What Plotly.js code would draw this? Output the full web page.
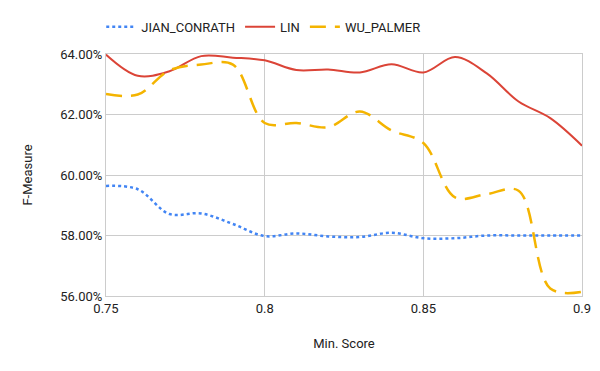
<!DOCTYPE html>
<html>
<head>
<meta charset="utf-8">
<script src="https://cdn.plot.ly/plotly-3.0.1.min.js"></script>
<style>
  html, body { margin: 0; padding: 0; background: #fff; }
  #chart { width: 600px; height: 371px; }
</style>
</head>
<body>
<div id="chart"></div>
<script>
// min. score thresholds
var minScore = [0.75, 0.76, 0.77, 0.78, 0.79, 0.80, 0.81, 0.82, 0.83, 0.84, 0.85, 0.86, 0.87, 0.88, 0.89, 0.90];

// F-measure per measure
var jianConrath = [0.5964, 0.5953, 0.5871, 0.5873, 0.5838, 0.5798, 0.5807, 0.5797, 0.5795, 0.5809, 0.5791, 0.5791, 0.5800, 0.5800, 0.5800, 0.5800];
var lin = [0.6398, 0.6328, 0.6343, 0.6393, 0.6388, 0.6379, 0.6347, 0.6349, 0.6339, 0.6366, 0.6339, 0.6390, 0.6336, 0.6243, 0.6188, 0.6097];
var wuPalmer = [0.6268, 0.6266, 0.6346, 0.6365, 0.6365, 0.6172, 0.6172, 0.6158, 0.6210, 0.6147, 0.6106, 0.5926, 0.5937, 0.5948, 0.5625, 0.5614];

var data = [
  {x: minScore, y: jianConrath, name: 'JIAN_CONRATH', type: 'scatter', mode: 'lines',
   line: {color: '#4285f4', width: 2.5, dash: 'dot', shape: 'spline', smoothing: 1}},
  {x: minScore, y: lin, name: 'LIN', type: 'scatter', mode: 'lines',
   line: {color: '#db4437', width: 2, shape: 'spline', smoothing: 1}},
  {x: minScore, y: wuPalmer, name: 'WU_PALMER', type: 'scatter', mode: 'lines',
   line: {color: '#f4b400', width: 2.5, dash: '16px,9px', shape: 'spline', smoothing: 1}}
];

var layout = {
  width: 600,
  height: 371,
  margin: {l: 106, r: 18, t: 52, b: 75},
  font: {family: 'Roboto, Arial, sans-serif', size: 13, color: '#222'},
  paper_bgcolor: '#fff',
  plot_bgcolor: '#fff',
  showlegend: true,
  legend: {orientation: 'h', x: -0.01, xanchor: 'left', y: 1.05, yanchor: 'bottom',
           font: {size: 13, color: '#222'}},
  xaxis: {
    range: [0.75, 0.9], dtick: 0.05, tick0: 0.75,
    showgrid: true, gridcolor: '#cccccc', zeroline: false,
    showline: true, linecolor: '#cccccc', mirror: true,
    ticks: '', tickfont: {size: 13, color: '#222'},
    title: {text: 'Min. Score', font: {size: 13, color: '#222'}, standoff: 24}
  },
  yaxis: {
    range: [0.56, 0.64], dtick: 0.02, tickformat: '.2%',
    showgrid: true, gridcolor: '#cccccc', zeroline: false,
    showline: true, linecolor: '#cccccc', mirror: true,
    ticks: '', tickfont: {size: 13, color: '#222'},
    title: {text: 'F-Measure', font: {size: 13, color: '#222'}, standoff: 24}
  }
};

Plotly.newPlot('chart', data, layout, {displayModeBar: false, staticPlot: true});
</script>
</body>
</html>
